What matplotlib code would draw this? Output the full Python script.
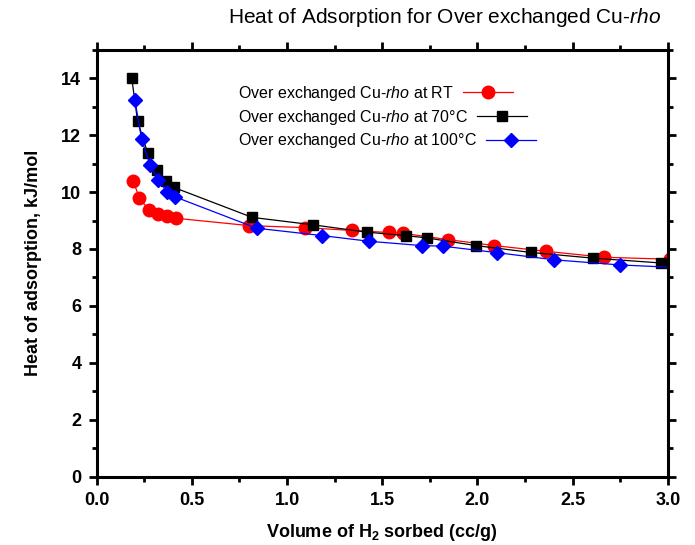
import matplotlib
matplotlib.use("Agg")
import matplotlib.pyplot as plt
from matplotlib.ticker import MultipleLocator

plt.rcParams['font.family'] = ['Liberation Sans', 'DejaVu Sans']
plt.rcParams['mathtext.fontset'] = 'custom'
plt.rcParams['mathtext.rm'] = 'Liberation Sans'
plt.rcParams['mathtext.it'] = 'Liberation Sans:italic'
plt.rcParams['mathtext.bf'] = 'Liberation Sans:bold'

# data
x_rt = [0.192, 0.224, 0.275, 0.324, 0.371, 0.415, 0.802, 1.096, 1.343, 1.533,
        1.610, 1.845, 2.088, 2.358, 2.666, 3.01]
y_rt = [10.40, 9.79, 9.37, 9.22, 9.15, 9.08, 8.82, 8.75, 8.65, 8.58,
        8.55, 8.33, 8.12, 7.92, 7.71, 7.64]

x_70 = [0.184, 0.215, 0.268, 0.315, 0.364, 0.406, 0.817, 1.134, 1.421, 1.623,
        1.733, 1.992, 2.279, 2.605, 2.962]
y_70 = [14.02, 12.50, 11.37, 10.78, 10.37, 10.16, 9.11, 8.85, 8.59, 8.47,
        8.39, 8.12, 7.88, 7.68, 7.51]

x_100 = [0.201, 0.236, 0.280, 0.324, 0.371, 0.412, 0.840, 1.185, 1.432, 1.707,
         1.817, 2.104, 2.403, 2.748, 3.08]
y_100 = [13.23, 11.86, 10.95, 10.43, 9.99, 9.83, 8.73, 8.47, 8.27, 8.12,
         8.10, 7.87, 7.62, 7.44, 7.34]

labels = [r'Over exchanged Cu-$\mathit{rho}$ at RT',
          r'Over exchanged Cu-$\mathit{rho}$ at 70°C',
          r'Over exchanged Cu-$\mathit{rho}$ at 100°C']

xticks = [0, 0.5, 1.0, 1.5, 2.0, 2.5, 3.0]
xticklabels = ['0.0', '0.5', '1.0', '1.5', '2.0', '2.5', '3.0']
yticks = [0, 2, 4, 6, 8, 10, 12, 14]

fig = plt.figure(figsize=(6.95, 5.45), dpi=100)
ax = fig.add_axes([0.139, 0.125, 0.822, 0.784])

ax.plot(x_rt, y_rt, '-o', color='#ff0000', lw=0.9, ms=9, mec='#ff0000', label=labels[0])
ax.plot(x_70, y_70, '-s', color='black', lw=0.9, ms=7.5, mec='black', label=labels[1])
ax.plot(x_100, y_100, '-D', color='#0000ff', lw=0.9, ms=7.5, mec='#0000ff', label=labels[2])

ax.set_xlim(0, 3.0)
ax.set_ylim(0, 15)
ax.xaxis.set_minor_locator(MultipleLocator(0.25))
ax.yaxis.set_minor_locator(MultipleLocator(1))
ax.set_xticks(xticks)
ax.set_xticklabels(xticklabels)
ax.set_yticks(yticks)

for s in ax.spines.values():
    s.set_linewidth(2.2)
ax.tick_params(which='both', direction='out', width=2, top=True, right=True,
               labeltop=False, labelright=False, labelsize=13, pad=5)
ax.tick_params(which='major', length=6)
ax.tick_params(which='minor', length=3.5)
for lab in ax.get_xticklabels() + ax.get_yticklabels():
    lab.set_fontweight('bold')

ax.set_xlabel(r'Volume of H$_{\mathbf{2}}$ sorbed (cc/g)', fontsize=13, fontweight='bold', labelpad=9)
ax.set_ylabel('Heat of adsorption, kJ/mol', fontsize=13, fontweight='bold', labelpad=14)

fig.text(0.639, 0.967, r'Heat of Adsorption for Over exchanged Cu-$\mathit{rho}$',
         fontsize=15, ha='center', va='center')

leg = ax.legend(loc='upper left', bbox_to_anchor=(0.247, 0.92), frameon=False,
                markerfirst=False, fontsize=11.5, handlelength=3.1, handletextpad=0.6,
                labelspacing=0.3, numpoints=1, borderpad=0, borderaxespad=0)
# text flush left, key right after each text (Origin style)
for col in leg._legend_handle_box.get_children():
    col.align = 'left'

fig.savefig('out.png', dpi=100)
